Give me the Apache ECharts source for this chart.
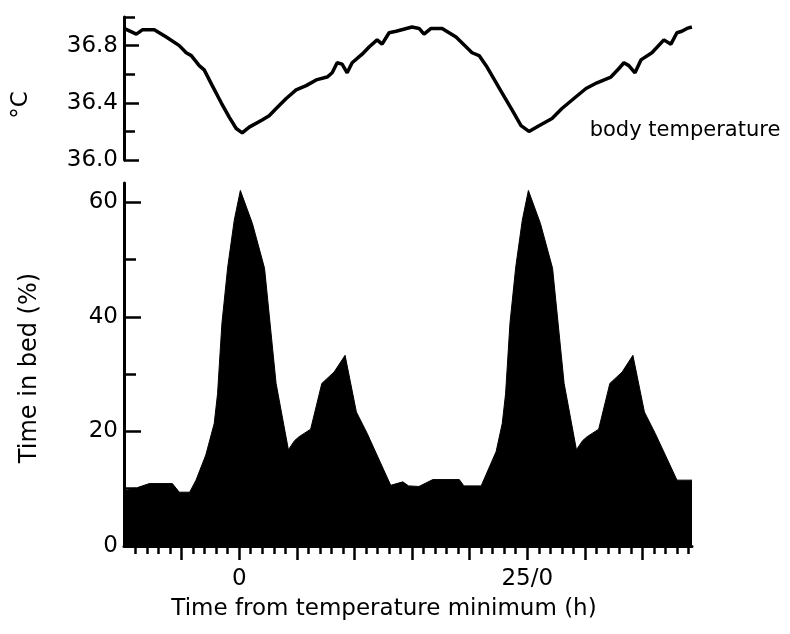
<!DOCTYPE html>
<html><head><meta charset="utf-8">
<script src="https://cdn.jsdelivr.net/npm/echarts@6/dist/echarts.min.js"></script>
<style>html,body{margin:0;padding:0;background:#fff}#c{width:790px;height:634px}</style>
</head><body><div id="c"></div>
<script>
// Body temperature (°C) vs time from temperature minimum (h), double plotted
const tempHours = [-10.0,-8.93,-8.41,-7.37,-6.33,-5.20,-4.60,-4.16,-3.47,-3.04,-2.34,-1.56,-0.87,-0.26,0.26,0.87,1.99,2.60,3.21,4.08,4.94,5.81,6.68,7.63,8.07,8.50,8.93,9.37,9.80,10.67,11.27,11.97,12.40,13.01,13.62,15.00,15.61,16.04,16.65,17.61,18.82,20.21,20.82,21.51,21.94,22.81,23.68,24.46,25.15,26.02,27.15,28.01,29.05,30.10,31.05,32.26,32.96,33.39,33.82,34.35,34.87,35.82,36.86,37.47,37.99,38.42,38.86,39.29];
const tempValues = [36.92,36.88,36.91,36.91,36.86,36.80,36.75,36.73,36.66,36.63,36.52,36.40,36.30,36.22,36.19,36.23,36.28,36.31,36.36,36.43,36.49,36.52,36.56,36.58,36.61,36.68,36.67,36.61,36.68,36.74,36.79,36.84,36.81,36.89,36.90,36.93,36.92,36.88,36.92,36.92,36.86,36.75,36.73,36.65,36.59,36.47,36.35,36.24,36.20,36.24,36.29,36.36,36.43,36.50,36.54,36.58,36.64,36.68,36.66,36.61,36.70,36.75,36.84,36.81,36.89,36.90,36.92,36.93];

// Time in bed (%)
const bedHours = [-10.0,-9.0,-7.8,-5.8,-5.2,-4.3,-3.75,-2.9,-2.17,-1.88,-1.5,-1.0,-0.43,0.1,1.15,2.2,3.2,4.27,4.8,5.2,6.2,7.17,8.24,9.19,10.17,11.1,13.15,14.2,14.7,15.6,16.8,19.1,19.5,21.0,22.3,22.83,23.12,23.5,24.0,24.57,25.1,26.15,27.2,28.2,29.27,29.8,30.2,31.2,32.17,33.24,34.17,35.17,36.1,38.0,39.3];
const bedValues = [9.6,10.1,10.9,10.9,9.4,9.4,11.5,15.9,21.4,26.6,38.9,48.7,56.9,62.1,56.3,48.5,28.4,16.8,18.4,19.1,20.4,28.4,30.4,33.3,23.4,19.7,10.6,11.2,10.5,10.4,11.6,11.6,10.5,10.5,16.5,21.4,26.6,38.9,48.7,56.9,62.1,56.3,48.5,28.4,16.8,18.4,19.1,20.4,28.4,30.4,33.3,23.4,19.7,11.5,11.5];

// Tick labels
const xLabelValues = [0, 25];
const xLabelTexts = ['0', '25/0'];
const xMajorTicks = [-5, 0, 5, 10, 15, 20, 25, 30, 35];
const tempLabelValues = [36.0, 36.4, 36.8];
const tempMinorTicks = [36.2, 36.6, 37.0];
const bedLabelValues = [0, 20, 40, 60];
const bedMinorTicks = [10, 30, 50];

const xMin = -10, xMax = 39.3;
const xMinorTicks = [];
for (let h = -9; h <= 39; h++) if (xMajorTicks.indexOf(h) < 0) xMinorTicks.push(h);

const FONT = 'DejaVu Sans';
const black = '#000';

const chart = echarts.init(document.getElementById('c'), null, {renderer: 'canvas'});
const tempData = tempHours.map((h, i) => [h, tempValues[i]]);
const bedData = bedHours.map((h, i) => [h, bedValues[i]]);

const option = {
  backgroundColor: '#fff',
  animation: false,
  textStyle: {fontFamily: FONT, color: black},
  grid: [
    {left: 124, top: 17, width: 568, height: 143},
    {left: 124, top: 183, width: 568, height: 363}
  ],
  xAxis: [
    {gridIndex: 0, type: 'value', min: xMin, max: xMax, show: false},
    {gridIndex: 1, type: 'value', min: xMin, max: xMax, position: 'bottom',
      axisLine: {show: true, onZero: false, lineStyle: {color: black, width: 3}},
      axisTick: {show: true, inside: false, length: 14, customValues: xMajorTicks, lineStyle: {color: black, width: 2.5}},
      axisLabel: {show: true, customValues: xLabelValues, margin: 22, fontSize: 23, fontFamily: FONT, color: black,
        formatter: v => { const i = xLabelValues.indexOf(v); return i >= 0 ? xLabelTexts[i] : ''; }},
      splitLine: {show: false}},
    {gridIndex: 1, type: 'value', min: xMin, max: xMax, position: 'bottom',
      axisLine: {show: false, onZero: false},
      axisTick: {show: true, inside: false, length: 8, customValues: xMinorTicks, lineStyle: {color: black, width: 2.5}},
      axisLabel: {show: false}, splitLine: {show: false}}
  ],
  yAxis: [
    {gridIndex: 0, type: 'value', min: 36, max: 37, position: 'left',
      axisLine: {show: true, onZero: false, lineStyle: {color: black, width: 3}},
      axisTick: {show: true, inside: true, length: 15, customValues: tempLabelValues, lineStyle: {color: black, width: 2.5}},
      axisLabel: {show: true, customValues: tempLabelValues, margin: 6, fontSize: 23, fontFamily: FONT, color: black,
        formatter: v => v.toFixed(1)},
      splitLine: {show: false}},
    {gridIndex: 0, type: 'value', min: 36, max: 37, position: 'left',
      axisLine: {show: false, onZero: false},
      axisTick: {show: true, inside: true, length: 11, customValues: tempMinorTicks, lineStyle: {color: black, width: 2.5}},
      axisLabel: {show: false}, splitLine: {show: false}},
    {gridIndex: 1, type: 'value', min: 0, max: 63.4, position: 'left',
      axisLine: {show: true, onZero: false, lineStyle: {color: black, width: 3}},
      axisTick: {show: true, inside: true, length: 17, customValues: bedLabelValues, lineStyle: {color: black, width: 2.5}},
      axisLabel: {show: true, customValues: bedLabelValues, margin: 6, fontSize: 23, fontFamily: FONT, color: black},
      splitLine: {show: false}},
    {gridIndex: 1, type: 'value', min: 0, max: 63.4, position: 'left',
      axisLine: {show: false, onZero: false},
      axisTick: {show: true, inside: true, length: 12, customValues: bedMinorTicks, lineStyle: {color: black, width: 2.5}},
      axisLabel: {show: false}, splitLine: {show: false}}
  ],
  series: [
    {type: 'line', name: 'body temperature', xAxisIndex: 0, yAxisIndex: 0, data: tempData,
      symbol: 'none', smooth: false, lineStyle: {color: black, width: 3.5}, z: 3},
    {type: 'line', name: 'Time in bed', xAxisIndex: 1, yAxisIndex: 2, data: bedData,
      symbol: 'none', smooth: false, lineStyle: {color: black, width: 1},
      areaStyle: {color: black, opacity: 1}, z: 1}
  ],
  graphic: [
    {type: 'text', x: 21, y: 105, rotation: Math.PI / 2,
      style: {text: '°C', fontSize: 23, fontFamily: FONT, fill: black, textAlign: 'center', textVerticalAlign: 'middle'}},
    {type: 'text', x: 30, y: 368, rotation: Math.PI / 2,
      style: {text: 'Time in bed (%)', fontSize: 24, fontFamily: FONT, fill: black, textAlign: 'center', textVerticalAlign: 'middle'}},
    {type: 'text', x: 685, y: 131,
      style: {text: 'body temperature', fontSize: 21, fontFamily: FONT, fill: black, textAlign: 'center', textVerticalAlign: 'middle'}},
    {type: 'text', x: 384, y: 609,
      style: {text: 'Time from temperature minimum (h)', fontSize: 23, fontFamily: FONT, fill: black, textAlign: 'center', textVerticalAlign: 'middle'}}
  ]
};
chart.setOption(option);
</script>
</body></html>
